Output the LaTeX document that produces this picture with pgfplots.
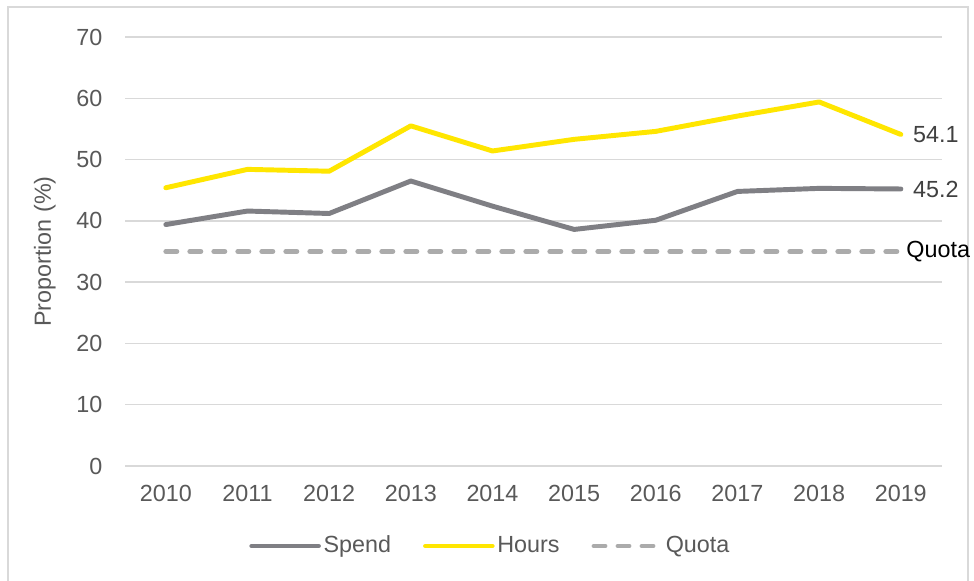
\documentclass[border=0pt]{standalone}
\usepackage{fontspec}
\setmainfont{Liberation Sans}
\usepackage{pgfplots}
\pgfplotsset{compat=1.18}
\definecolor{spendgray}{HTML}{7F7F84}
\definecolor{hoursyellow}{HTML}{FFE600}
\definecolor{quotagray}{HTML}{ABABAB}
\definecolor{gridgray}{HTML}{D9D9D9}
\definecolor{labelgray}{HTML}{595959}
\definecolor{valgray}{HTML}{404040}

\pgfplotstableread{
year spend hours quota
2010 39.4 45.4 35
2011 41.6 48.4 35
2012 41.2 48.1 35
2013 46.5 55.5 35
2014 42.4 51.4 35
2015 38.6 53.3 35
2016 40.1 54.6 35
2017 44.8 57.1 35
2018 45.3 59.4 35
2019 45.2 54.1 35
}\datatable

\begin{document}
\fontsize{17.5}{21}\selectfont
\begin{tikzpicture}
\useasboundingbox (0pt,0pt) rectangle (730.5pt,435.75pt);
\fill[white] (0pt,0pt) rectangle (730.5pt,435.75pt);
\draw[gridgray, line width=1.5pt] (6pt,-15pt) -- (6pt,430.5pt) -- (726pt,430.5pt) -- (726pt,-15pt);
\begin{axis}[
  at={(93.75pt,86.25pt)}, anchor=south west,
  scale only axis,
  width=612.5pt, height=321.75pt,
  xmin=2009.5, xmax=2019.5,
  ymin=0, ymax=70,
  xtick={2010,...,2019},
  ytick={0,10,...,70},
  xticklabel style={/pgf/number format/1000 sep={}, text=labelgray, yshift=-8pt},
  yticklabel style={text=labelgray, xshift=-11pt},
  /pgf/number format/assume math mode=true,
  major tick length=0pt,
  axis line style={draw=none},
  ymajorgrids,
  grid style={gridgray, line width=1.1pt},
  ylabel={Proportion (\%)},
  ylabel style={text=labelgray, at={(axis description cs:-0.098,0.5)}, anchor=center},
  every axis label/.append style={font=\fontsize{17.5}{21}\selectfont},
  tick label style={font=\fontsize{17.5}{21}\selectfont},
  clip=false,
  legend columns=3,
  legend style={draw=none, fill=none, at={(axis description cs:0.5,0)}, anchor=center,
    xshift=-32pt, yshift=-60pt, font=\fontsize{17.5}{21}\selectfont, text=labelgray,
    /tikz/every even column/.append style={column sep=22pt},
    nodes={inner sep=2pt}},
  legend image code/.code={\draw[#1] (0pt,0pt) -- (50pt,0pt);},
]
\addplot[spendgray, line width=3.7pt, line cap=round, line join=round] table[x=year,y=spend] {\datatable};
\addlegendentry{Spend}
\addplot[hoursyellow, line width=3.7pt, line cap=round, line join=round] table[x=year,y=hours] {\datatable};
\addlegendentry{Hours}
\addplot[quotagray, line width=3.7pt, line cap=round, dash pattern=on 8.25pt off 9.75pt] table[x=year,y=quota] {\datatable};
\addlegendentry{Quota}
\node[anchor=west, text=valgray, inner sep=0pt] at (axis cs:2019,54.1) {\hspace{9pt}54.1};
\node[anchor=west, text=valgray, inner sep=0pt] at (axis cs:2019,45.2) {\hspace{9pt}45.2};
\node[anchor=west, text=black, inner sep=0pt] at (axis cs:2019,35) {\hspace{4pt}Quota};
\end{axis}
\end{tikzpicture}
\end{document}
